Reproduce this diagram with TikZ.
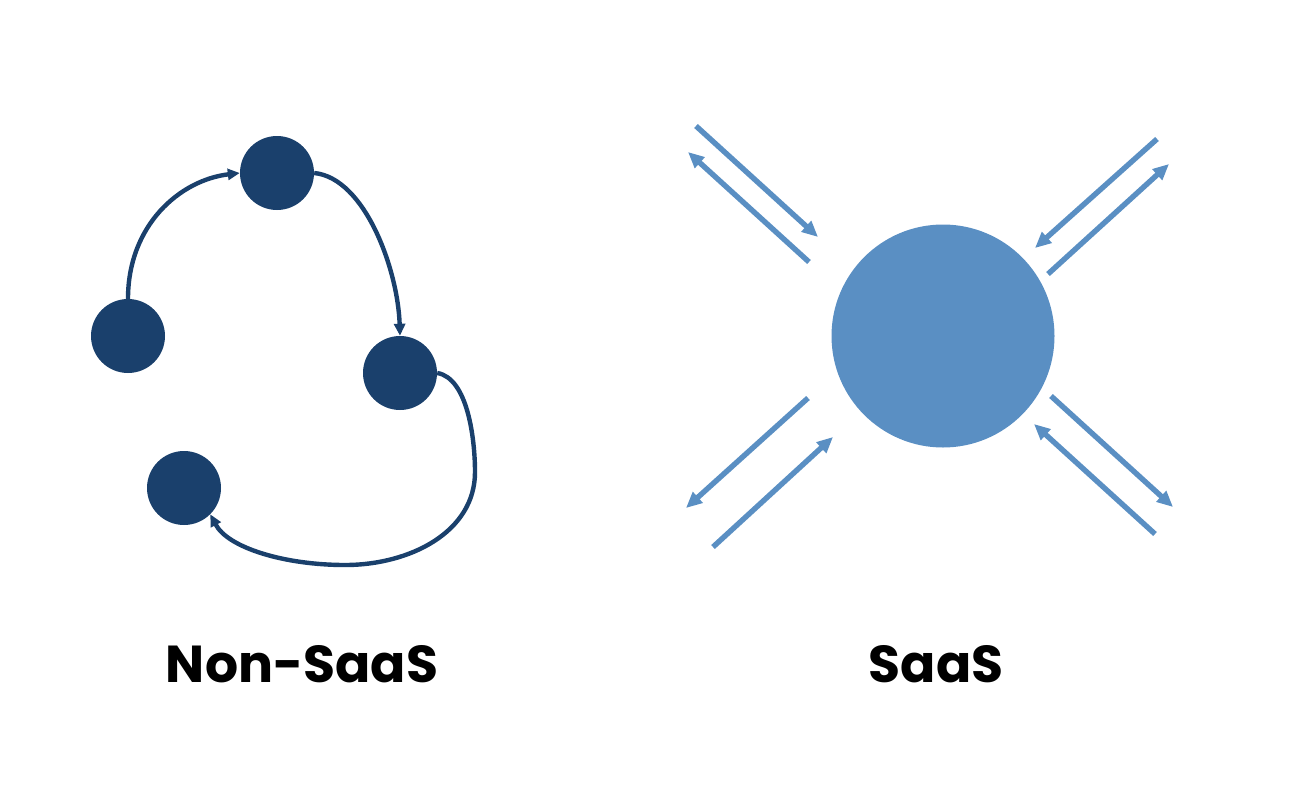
\documentclass[tikz,border=0pt]{standalone}
\usepackage{fontspec}
\setmainfont{Poppins}[BoldFont={Poppins Bold}]
\usetikzlibrary{arrows.meta}
\definecolor{darkblue}{HTML}{1A406C}
\definecolor{lightblue}{HTML}{5A8FC3}
\tikzset{
  smalldot/.style={circle,fill=darkblue,minimum size=74pt,inner sep=0pt},
  bigdot/.style={circle,fill=lightblue,minimum size=223pt,inner sep=0pt},
  cyclearrow/.style={draw=darkblue,line width=4.4pt,-{Triangle[length=12pt,width=11pt]}},
  flowarrow/.style={draw=lightblue,line width=5.4pt,-{Triangle[length=16pt,width=14pt]}},
  caption/.style={font=\fontsize{52}{56}\selectfont\bfseries,text=black}
}
\begin{document}
\begin{tikzpicture}[x=1pt,y=-1pt]
\useasboundingbox (0,0) rectangle (1300,790);
% Non-SaaS
\node[smalldot] (l) at (128,336) {};
\node[smalldot] (t) at (277,173) {};
\node[smalldot] (r) at (400,373) {};
\node[smalldot] (b) at (184,488) {};
\draw[cyclearrow] (l.north) .. controls (128,225) and (180,180) .. (t.west);
\draw[cyclearrow] (t.east) .. controls (365,178) and (398,270) .. (r.north);
\draw[cyclearrow] (r.east) .. controls (468,378) and (475,440) .. (475,472)
  .. controls (475,532) and (410,565) .. (345,565)
  .. controls (285,565) and (228,548) .. (b.south east);
\node[caption] (cl) at (302,664) {Non-SaaS};
% SaaS
\node[bigdot] (c) at (943,336) {};
\coordinate (a1) at (696,126); \coordinate (a2) at (818,237);
\coordinate (b1) at (809,262); \coordinate (b2) at (688,152);
\coordinate (c1) at (1157,139); \coordinate (c2) at (1035,248);
\coordinate (d1) at (1048,274); \coordinate (d2) at (1169,164);
\coordinate (e1) at (808,398); \coordinate (e2) at (686,508);
\coordinate (f1) at (713,547); \coordinate (f2) at (833,437);
\coordinate (g1) at (1051,396); \coordinate (g2) at (1173,507);
\coordinate (h1) at (1155,534); \coordinate (h2) at (1034,424);
\draw[flowarrow] (a1) -- (a2);
\draw[flowarrow] (b1) -- (b2);
\draw[flowarrow] (c1) -- (c2);
\draw[flowarrow] (d1) -- (d2);
\draw[flowarrow] (e1) -- (e2);
\draw[flowarrow] (f1) -- (f2);
\draw[flowarrow] (g1) -- (g2);
\draw[flowarrow] (h1) -- (h2);
\node[caption] (cr) at (936,664) {SaaS};
\end{tikzpicture}
\end{document}
